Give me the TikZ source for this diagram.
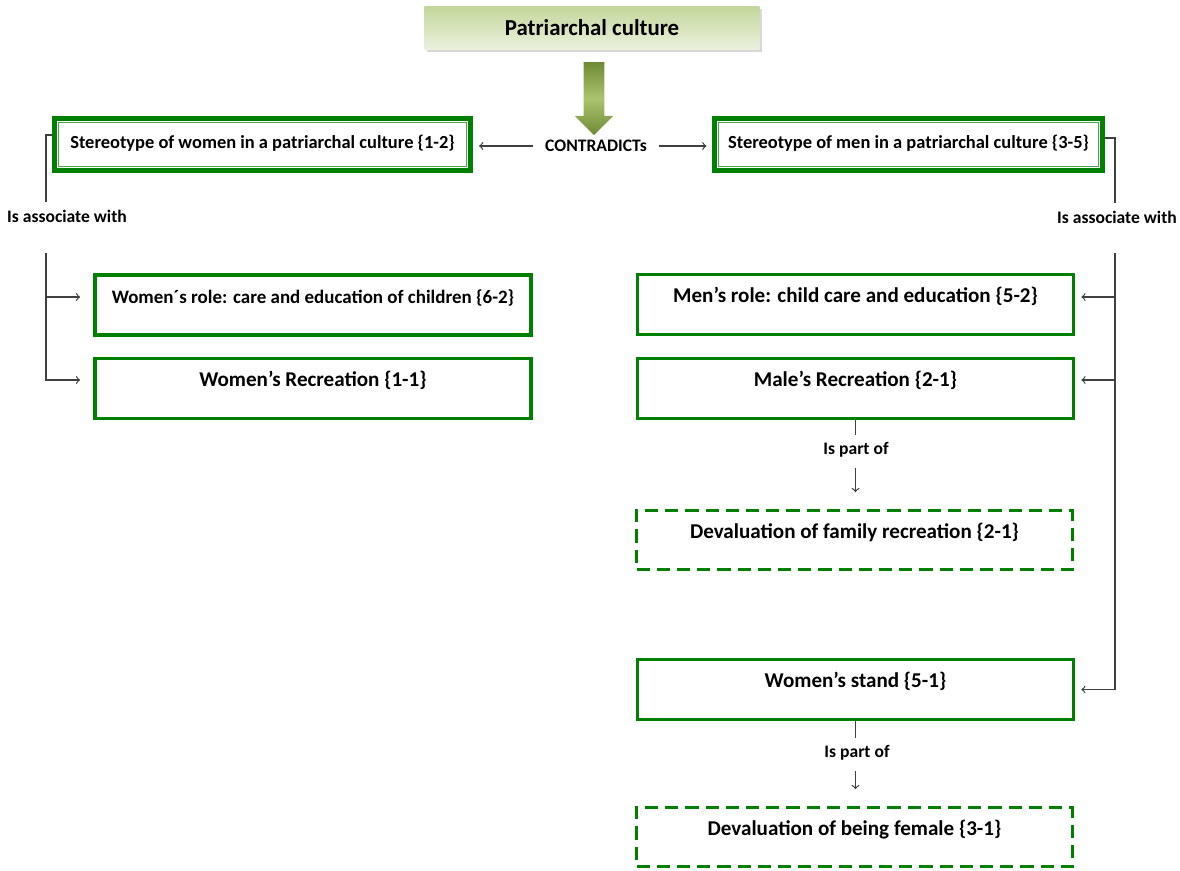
\documentclass[tikz,border=0pt]{standalone}
\usepackage{fontspec}
\setmainfont{Carlito}
\usepackage{tikz}
\usetikzlibrary{shapes,arrows,positioning,shadows}
\definecolor{boxgreen}{HTML}{008000}
\definecolor{thingreen}{HTML}{4CA64C}
\definecolor{olivedk}{HTML}{6F8A35}
\definecolor{olivelt}{HTML}{A9C46C}
\definecolor{lnk}{HTML}{404040}
\definecolor{toptop}{HTML}{C3D69B}
\definecolor{topbot}{HTML}{EBF1DE}
\tikzstyle{arrow}=[draw=lnk,-to,line width=0.7pt]
\tikzstyle{link}=[draw=lnk,line width=0.7pt]
\tikzstyle{topbox}=[top color=toptop,bottom color=topbot,minimum width=6.7cm,minimum height=0.86cm,
  font=\fontsize{13}{15}\selectfont\bfseries,drop shadow={shadow xshift=1.5pt,shadow yshift=-1.5pt,fill=black!30}]
\tikzstyle{fatarrow}=[single arrow,rotate=-90,minimum height=1.46cm,inner xsep=0pt,inner ysep=5.67pt,
  single arrow head extend=5.1pt,single arrow tip angle=90,top color=olivedk,bottom color=olivedk,middle color=olivelt]
\tikzstyle{stbox}=[draw=boxgreen,line width=2.8pt,minimum height=1.04cm,
  font=\fontsize{10.5}{12}\selectfont\bfseries,text height=8pt,text depth=4pt]
\tikzstyle{gbox}=[draw=boxgreen,line width=2.2pt,minimum width=8.72cm,minimum height=1.2cm,
  font=\fontsize{12}{14}\selectfont\bfseries,text height=9pt,text depth=11pt]
\tikzstyle{dbox}=[gbox,line width=1.7pt,dash pattern=on 7.5pt off 4pt,minimum height=1.18cm]
\tikzstyle{lbl}=[font=\fontsize{10}{12}\selectfont\bfseries,inner sep=4pt]

\begin{document}
\begin{tikzpicture}[x=0.02cm,y=-0.02cm]
\useasboundingbox (0,0) rectangle (1180,870);

% top
\node [topbox] (pc) at (592,28) {Patriarchal culture};
\node [fatarrow] (down) at (594,93.5) {};
\node [lbl] (contra) at (596,146) {CONTRADICTs};

% stereotypes
\node [stbox,minimum width=8.32cm] (stw) at (262.5,144.5) {Stereotype of women in a patriarchal culture \{1-2\}};
\node [stbox,minimum width=7.76cm] (stm) at (908.5,144.5) {Stereotype of men in a patriarchal culture \{3-5\}};
\draw [thingreen,line width=0.6pt] ([shift={(6,6)}]stw.north west) rectangle ([shift={(-6,-6)}]stw.south east);
\draw [thingreen,line width=0.6pt] ([shift={(6,6)}]stm.north west) rectangle ([shift={(-6,-6)}]stm.south east);

\draw [arrow,shorten <=3pt,shorten >=3.5pt] (contra.west) -- (contra.west -| stw.east);
\draw [arrow,shorten <=3pt,shorten >=3.2pt] (contra.east) -- (contra.east -| stm.west);

% left side
\node [lbl] (assocL) at (67,216) {Is associate with};
\node [gbox,font=\fontsize{10.8}{13}\selectfont\bfseries] (wr) at (313,305) {Women´s role: care and education of children \{6-2\}};
\node [gbox] (wrec) at (313,388.5) {Women’s Recreation \{1-1\}};

\coordinate (jl1) at (46,135);
\coordinate (jl2) at (46,253);
\draw [link] ([shift={(0,-9.5)}]stw.west) -| (assocL.north -| jl1);
\draw [arrow,shorten >=7.4pt] (jl2) |- ([shift={(0,-8)}]wr.west);
\draw [arrow,shorten >=7.4pt] (jl2) |- ([shift={(0,-8.5)}]wrec.west);

% right side
\node [lbl] (assocR) at (1117,217) {Is associate with};
\node [gbox] (mr) at (855.5,304.5) {Men’s role: child care and education \{5-2\}};
\node [gbox] (mrec) at (855.5,388.5) {Male’s Recreation \{2-1\}};
\node [lbl] (part1) at (856,450) {Is part of};
\node [dbox] (devf) at (854.5,540) {Devaluation of family recreation \{2-1\}};
\node [gbox] (ws) at (855.5,689.5) {Women’s stand \{5-1\}};
\node [lbl] (part2) at (857,753) {Is part of};
\node [dbox] (devb) at (854.5,837) {Devaluation of being female \{3-1\}};

\coordinate (jr1) at (1115,138);
\coordinate (jr2) at (1115,253);
\draw [link] ([shift={(0,-6.5)}]stm.east) -| (assocR.north -| jr1);
\draw [arrow,shorten >=3.4pt] (jr2) |- ([shift={(0,-7.5)}]mr.east);
\draw [arrow,shorten >=3.4pt] (jr2) |- ([shift={(0,-8.5)}]mrec.east);
\draw [arrow,shorten >=3.4pt] (jr2) |- (ws.east);

\draw [link] (mrec.south) -- (mrec.south |- part1.north);
\draw [arrow,shorten <=2pt,shorten >=9.6pt] (part1.south -| mrec.south) -- (devf.north -| mrec.south);
\draw [link] (ws.south) -- (ws.south |- part2.north);
\draw [arrow,shorten <=2pt,shorten >=9.6pt] (part2.south -| ws.south) -- (devb.north -| ws.south);
\end{tikzpicture}
\end{document}
